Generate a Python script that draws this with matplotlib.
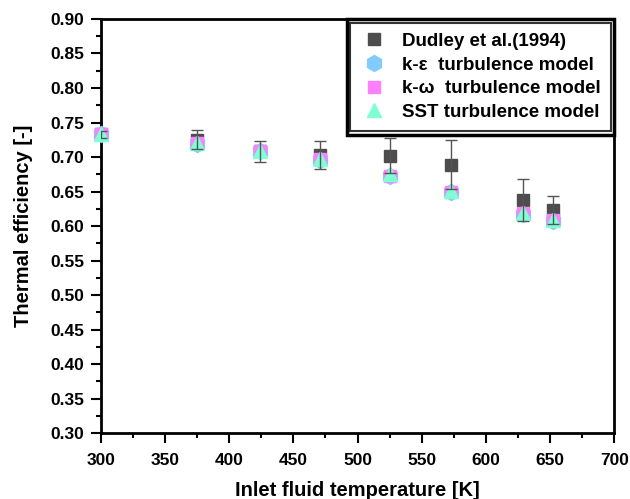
import matplotlib
matplotlib.use("Agg")
import matplotlib.pyplot as plt
from matplotlib.patches import Rectangle
from matplotlib.ticker import MultipleLocator

plt.rcParams["font.family"] = ["Liberation Sans", "DejaVu Sans"]
plt.rcParams["font.weight"] = "bold"

# experimental data (Dudley et al., 1994) with uncertainty
exp_temp = [300, 375, 424, 471, 525, 573, 629, 652]
exp_eff = [0.733, 0.725, 0.708, 0.703, 0.702, 0.689, 0.638, 0.623]
exp_err = [0.005, 0.014, 0.015, 0.020, 0.025, 0.035, 0.030, 0.020]

# simulated efficiency for each turbulence model
sim_temp = [300, 375, 424, 471, 525, 573, 629, 652]
ke_eff = [0.733, 0.719, 0.708, 0.696, 0.673, 0.649, 0.618, 0.608]
kw_eff = [0.733, 0.720, 0.708, 0.697, 0.673, 0.650, 0.619, 0.609]
sst_eff = [0.734, 0.721, 0.709, 0.697, 0.675, 0.651, 0.619, 0.609]

fig = plt.figure(figsize=(6.3, 4.99), dpi=100)
ax = fig.add_axes([0.160, 0.132, 0.815, 0.830])

ax.plot(exp_temp, exp_eff, "s", color="#4d4d4d", ms=8.5, zorder=2,
        clip_on=False, label="Dudley et al.(1994)")
ax.errorbar(exp_temp, exp_eff, yerr=exp_err, fmt="none", ecolor="#555555",
            elinewidth=1.0, capsize=4, capthick=1.0, zorder=6)
ax.plot(sim_temp, ke_eff, "h", color="#80ccff", ms=11.5, zorder=3,
        clip_on=False, label="k-\u03b5  turbulence model")
ax.plot(sim_temp, kw_eff, "s", color="#ff80ff", ms=8, zorder=4,
        clip_on=False, label="k-\u03c9  turbulence model")
ax.plot(sim_temp, sst_eff, "^", color="#80ffd4", ms=10.5, zorder=5,
        clip_on=False, label="SST turbulence model")

ax.set_xlim(300, 700)
ax.set_ylim(0.30, 0.90)
ax.xaxis.set_major_locator(MultipleLocator(50))
ax.xaxis.set_minor_locator(MultipleLocator(25))
ax.yaxis.set_major_locator(MultipleLocator(0.05))
ax.yaxis.set_minor_locator(MultipleLocator(0.025))
ax.yaxis.set_major_formatter(lambda v, pos: f"{v:.2f}")

ax.tick_params(which="both", direction="out", width=1.5, top=False, right=False,
               labelsize=12.5)
ax.tick_params(which="major", length=7)
ax.tick_params(which="minor", length=3.5)
ax.tick_params(axis="x", pad=7)
ax.tick_params(axis="y", pad=5)
for s in ax.spines.values():
    s.set_linewidth(2)

ax.set_xlabel("Inlet fluid temperature [K]", fontsize=14.5, fontweight="bold",
              labelpad=10)
ax.set_ylabel("Thermal efficiency [-]", fontsize=14.5, fontweight="bold",
              labelpad=12.5)

leg = ax.legend(loc="upper right", fontsize=13.5, frameon=True, fancybox=False,
                borderaxespad=0.19, labelspacing=0.35, handletextpad=0.8,
                borderpad=0.55, handlelength=1.4)
leg.get_frame().set_edgecolor("black")
leg.get_frame().set_linewidth(1.5)
leg.set_zorder(10)

# outer line of the double legend border
fig.canvas.draw()
bb = leg.get_window_extent().transformed(fig.transFigure.inverted())
dx, dy = 3.5 / 630, 3.5 / 499
fig.add_artist(Rectangle((bb.x0 - dx, bb.y0 - dy), bb.width + 2 * dx,
                         bb.height + 2 * dy, transform=fig.transFigure,
                         fill=False, edgecolor="black", lw=2.5, zorder=11))

fig.savefig("out.png", dpi=100)
